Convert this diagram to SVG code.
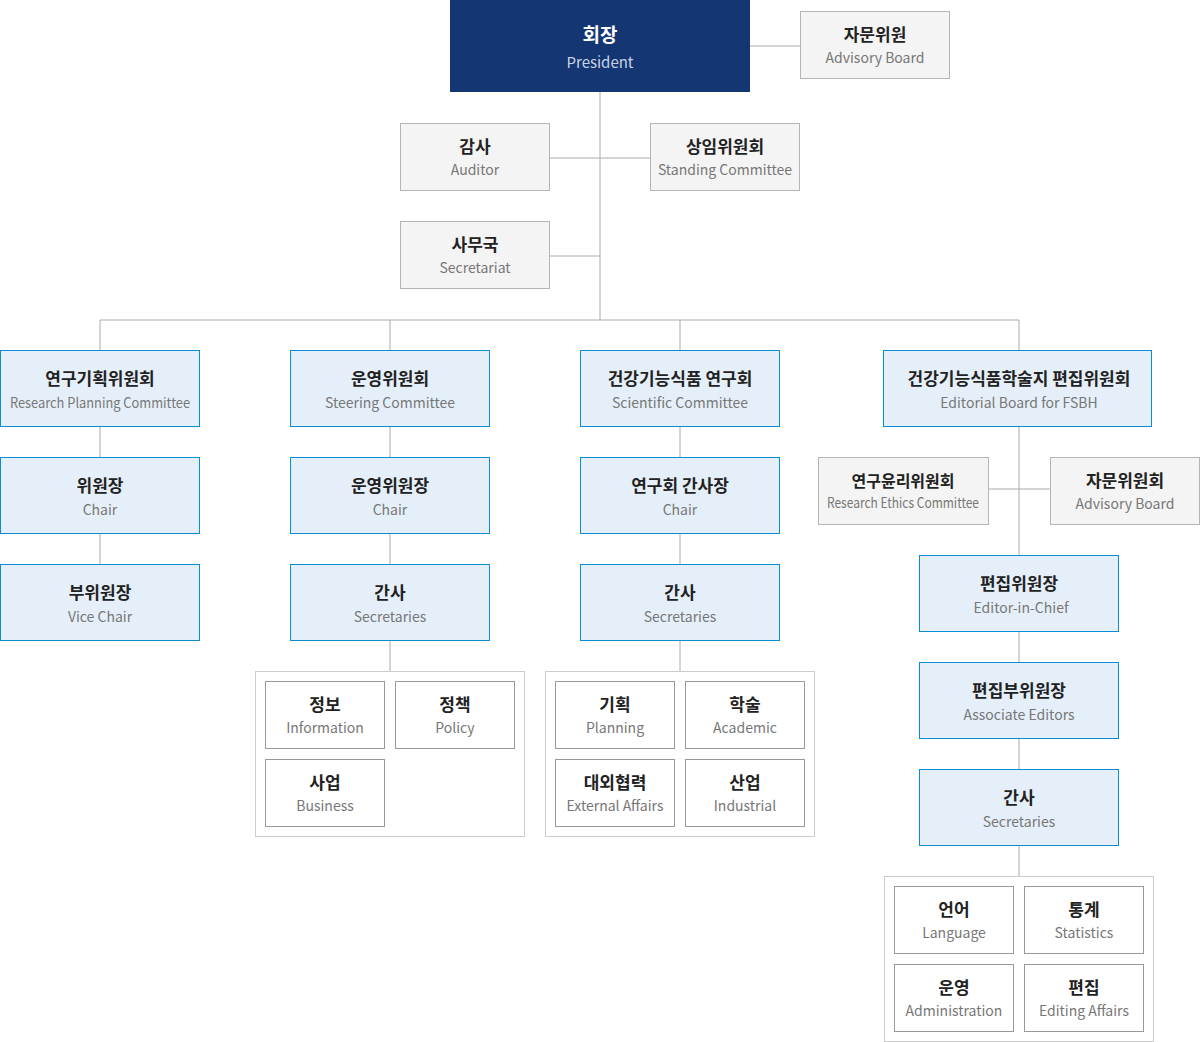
<svg xmlns="http://www.w3.org/2000/svg" width="1200" height="1042" viewBox="0 0 1200 1042">
<style>
text{font-family:"Noto Sans CJK KR","Noto Sans",sans-serif;text-anchor:middle}
.t{font-size:17px;font-weight:bold;fill:#222}
.s{font-size:14px;fill:#777}
.tw{font-size:19px;font-weight:bold;fill:#fff}
.sw{font-size:15px;fill:#c8d3e6}
.b{fill:#e5eff9;stroke:#0b8dd2;stroke-width:1}
.g{fill:#f4f4f4;stroke:#b5b5b5;stroke-width:1}
.w{fill:#fff;stroke:#999;stroke-width:1}
.c{fill:#fff;stroke:#ccc;stroke-width:1}
.l{stroke:#aaa;stroke-width:1;fill:none}
</style>
<g id="connectors">
<path class="l" d="M750 46H800M600 92V320M549 158H650M549 256H600M100 320H1019M100 320V350M390 320V350M680 320V350M1019 320V350M100 426V457M100 533V564M390 426V457M390 533V564M390 640V671M680 426V457M680 533V564M680 640V671M1019 426V555M988 489H1050M1019 631V662M1019 738V769M1019 845V876"/>
</g>
<g id="president"><rect x="450" y="0" width="300" height="92" fill="#143673"/><text class="tw" x="600" y="42">회장</text><text class="sw" x="600" y="68">President</text></g>
<g id="advisory"><rect class="g" x="800.5" y="11.5" width="149" height="67"/><text class="t" x="875" y="41">자문위원</text><text class="s" x="875" y="63">Advisory Board</text></g>
<g id="auditor"><rect class="g" x="400.5" y="123.5" width="149" height="67"/><text class="t" x="475" y="153">감사</text><text class="s" x="475" y="175">Auditor</text></g>
<g id="standing"><rect class="g" x="650.5" y="123.5" width="149" height="67"/><text class="t" x="725" y="153">상임위원회</text><text class="s" x="725" y="175">Standing Committee</text></g>
<g id="secretariat"><rect class="g" x="400.5" y="221.5" width="149" height="67"/><text class="t" x="475" y="251">사무국</text><text class="s" x="475" y="273">Secretariat</text></g>

<g id="rp"><rect class="b" x="0.5" y="350.5" width="199" height="76"/><text class="t" x="100" y="385">연구기획위원회</text><text class="s" x="100" y="408" textLength="180" lengthAdjust="spacingAndGlyphs">Research Planning Committee</text></g>
<g id="rp-chair"><rect class="b" x="0.5" y="457.5" width="199" height="76"/><text class="t" x="100" y="492">위원장</text><text class="s" x="100" y="515">Chair</text></g>
<g id="rp-vice"><rect class="b" x="0.5" y="564.5" width="199" height="76"/><text class="t" x="100" y="599">부위원장</text><text class="s" x="100" y="622">Vice Chair</text></g>

<g id="st"><rect class="b" x="290.5" y="350.5" width="199" height="76"/><text class="t" x="390" y="385">운영위원회</text><text class="s" x="390" y="408">Steering Committee</text></g>
<g id="st-chair"><rect class="b" x="290.5" y="457.5" width="199" height="76"/><text class="t" x="390" y="492">운영위원장</text><text class="s" x="390" y="515">Chair</text></g>
<g id="st-sec"><rect class="b" x="290.5" y="564.5" width="199" height="76"/><text class="t" x="390" y="599">간사</text><text class="s" x="390" y="622">Secretaries</text></g>
<g id="st-group"><rect class="c" x="255.5" y="671.5" width="269" height="165"/>
<rect class="w" x="265.5" y="681.5" width="119" height="67"/><text class="t" x="325" y="711">정보</text><text class="s" x="325" y="733">Information</text>
<rect class="w" x="395.5" y="681.5" width="119" height="67"/><text class="t" x="455" y="711">정책</text><text class="s" x="455" y="733">Policy</text>
<rect class="w" x="265.5" y="759.5" width="119" height="67"/><text class="t" x="325" y="789">사업</text><text class="s" x="325" y="811">Business</text></g>

<g id="sc"><rect class="b" x="580.5" y="350.5" width="199" height="76"/><text class="t" x="680" y="385">건강기능식품 연구회</text><text class="s" x="680" y="408">Scientific Committee</text></g>
<g id="sc-chair"><rect class="b" x="580.5" y="457.5" width="199" height="76"/><text class="t" x="680" y="492">연구회 간사장</text><text class="s" x="680" y="515">Chair</text></g>
<g id="sc-sec"><rect class="b" x="580.5" y="564.5" width="199" height="76"/><text class="t" x="680" y="599">간사</text><text class="s" x="680" y="622">Secretaries</text></g>
<g id="sc-group"><rect class="c" x="545.5" y="671.5" width="269" height="165"/>
<rect class="w" x="555.5" y="681.5" width="119" height="67"/><text class="t" x="615" y="711">기획</text><text class="s" x="615" y="733">Planning</text>
<rect class="w" x="685.5" y="681.5" width="119" height="67"/><text class="t" x="745" y="711">학술</text><text class="s" x="745" y="733">Academic</text>
<rect class="w" x="555.5" y="759.5" width="119" height="67"/><text class="t" x="615" y="789">대외협력</text><text class="s" x="615" y="811">External Affairs</text>
<rect class="w" x="685.5" y="759.5" width="119" height="67"/><text class="t" x="745" y="789">산업</text><text class="s" x="745" y="811">Industrial</text></g>

<g id="eb"><rect class="b" x="883.5" y="350.5" width="268" height="76"/><text class="t" x="1019" y="385">건강기능식품학술지 편집위원회</text><text class="s" x="1019" y="408">Editorial Board for FSBH</text></g>
<g id="ethics"><rect class="g" x="818.5" y="457.5" width="170" height="67"/><text class="t" x="903" y="487" style="font-size:16px">연구윤리위원회</text><text class="s" x="903" y="508" textLength="152" lengthAdjust="spacingAndGlyphs">Research Ethics Committee</text></g>
<g id="eb-adv"><rect class="g" x="1050.5" y="457.5" width="149" height="67"/><text class="t" x="1125" y="487">자문위원회</text><text class="s" x="1125" y="509">Advisory Board</text></g>
<g id="eic"><rect class="b" x="919.5" y="555.5" width="199" height="76"/><text class="t" x="1019" y="590">편집위원장</text><text class="s" x="1021" y="613">Editor-in-Chief</text></g>
<g id="assoc"><rect class="b" x="919.5" y="662.5" width="199" height="76"/><text class="t" x="1019" y="697">편집부위원장</text><text class="s" x="1019" y="720">Associate Editors</text></g>
<g id="eb-sec"><rect class="b" x="919.5" y="769.5" width="199" height="76"/><text class="t" x="1019" y="804">간사</text><text class="s" x="1019" y="827">Secretaries</text></g>
<g id="eb-group"><rect class="c" x="884.5" y="876.5" width="269" height="165"/>
<rect class="w" x="894.5" y="886.5" width="119" height="67"/><text class="t" x="954" y="916">언어</text><text class="s" x="954" y="938">Language</text>
<rect class="w" x="1024.5" y="886.5" width="119" height="67"/><text class="t" x="1084" y="916">통계</text><text class="s" x="1084" y="938">Statistics</text>
<rect class="w" x="894.5" y="964.5" width="119" height="67"/><text class="t" x="954" y="994">운영</text><text class="s" x="954" y="1016">Administration</text>
<rect class="w" x="1024.5" y="964.5" width="119" height="67"/><text class="t" x="1084" y="994">편집</text><text class="s" x="1084" y="1016">Editing Affairs</text></g>
</svg>
